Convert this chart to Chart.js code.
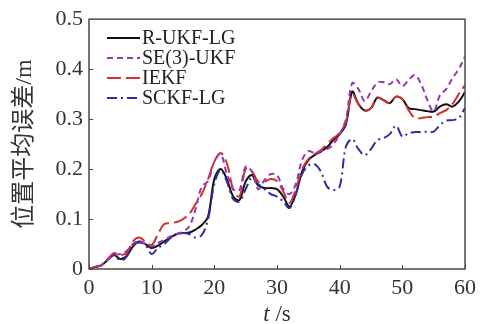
<!DOCTYPE html>
<html>
<head>
<meta charset="utf-8">
<script src="https://cdn.jsdelivr.net/npm/chart.js@4"></script>
<style>
html,body{margin:0;padding:0;background:#fff;}
#wrap{width:486px;height:324px;position:relative;}
</style>
</head>
<body>
<div id="wrap"><canvas id="c" width="486" height="324"></canvas></div>
<script>
const tValues = [0,1,2,3,4,5,6,7,8,9,10,11,12,13,14,15,16,17,18,19,20,21,22,23,24,25,26,27,28,29,30,31,32,33,34,35,36,37,38,39,40,41,42,43,44,45,46,47,48,49,50,51,52,53,54,55,56,57,58,59,60];
const seriesNames = ['R-UKF-LG','SE(3)-UKF','IEKF','SCKF-LG'];
const rukfLg = [0,0.004,0.008,0.018,0.028,0.02,0.026,0.045,0.055,0.05,0.042,0.047,0.055,0.063,0.07,0.072,0.073,0.079,0.088,0.105,0.18,0.2,0.18,0.145,0.138,0.175,0.188,0.167,0.162,0.162,0.16,0.145,0.125,0.15,0.195,0.218,0.228,0.235,0.244,0.258,0.27,0.29,0.355,0.33,0.317,0.322,0.343,0.338,0.332,0.345,0.34,0.322,0.32,0.318,0.316,0.315,0.325,0.33,0.325,0.335,0.354];
const se3Ukf = [0,0.004,0.008,0.018,0.028,0.03,0.036,0.05,0.056,0.05,0.045,0.052,0.058,0.065,0.07,0.075,0.085,0.12,0.165,0.176,0.215,0.23,0.19,0.16,0.158,0.205,0.195,0.16,0.178,0.19,0.188,0.16,0.15,0.17,0.218,0.236,0.232,0.236,0.24,0.25,0.27,0.3,0.372,0.36,0.336,0.355,0.373,0.374,0.37,0.38,0.366,0.378,0.388,0.37,0.338,0.315,0.348,0.36,0.382,0.4,0.425];
const iekf = [0,0.004,0.008,0.02,0.032,0.028,0.032,0.055,0.063,0.055,0.048,0.07,0.09,0.092,0.094,0.1,0.11,0.13,0.15,0.18,0.215,0.232,0.212,0.16,0.145,0.2,0.195,0.175,0.175,0.18,0.176,0.155,0.132,0.16,0.2,0.22,0.23,0.238,0.25,0.262,0.272,0.295,0.35,0.33,0.318,0.322,0.343,0.338,0.332,0.345,0.34,0.318,0.302,0.302,0.304,0.305,0.312,0.318,0.33,0.35,0.368];
const sckfLg = [0,0.004,0.008,0.02,0.028,0.017,0.025,0.048,0.053,0.048,0.03,0.042,0.05,0.062,0.07,0.072,0.07,0.063,0.068,0.1,0.17,0.198,0.175,0.14,0.135,0.16,0.183,0.17,0.16,0.15,0.145,0.135,0.122,0.15,0.19,0.207,0.21,0.195,0.165,0.158,0.165,0.245,0.26,0.24,0.228,0.24,0.258,0.262,0.27,0.287,0.265,0.272,0.274,0.274,0.275,0.275,0.288,0.297,0.298,0.302,0.322];
const yTicks = [0,0.1,0.2,0.3,0.4,0.5];
const xTicks = [0,10,20,30,40,50,60];
const yTitle = '位置平均误差/m';

const serif = "'Liberation Serif','Times New Roman',serif";
const axisColor = '#4a4a4a';
const textColor = '#333';

function pts(vals){ return tValues.map((t,i)=>({x:t,y:vals[i]})); }

const styles = [
  {color:'#111111', dash:[]},
  {color:'#9a35ad', dash:[6,4]},
  {color:'#d33030', dash:[14,5]},
  {color:'#2b2f9e', dash:[10,4,2,4]}
];
const allVals = [rukfLg, se3Ukf, iekf, sckfLg];
// draw order: purple, red, blue, black on top-ish
const order = [1,2,3,0];
const datasets = order.map(i=>({
  label: seriesNames[i],
  data: pts(allVals[i]),
  borderColor: styles[i].color,
  borderDash: styles[i].dash,
  borderWidth: 2,
  pointRadius: 0,
  tension: 0.35,
  fill: false,
  legendIndex: i
}));

const framePlugin = {
  id:'frame',
  afterDraw(chart){
    const {ctx, chartArea:a, scales} = chart;
    ctx.save();
    ctx.strokeStyle = axisColor;
    ctx.lineWidth = 1.5;
    ctx.setLineDash([]);
    ctx.strokeRect(a.left, a.top, a.right-a.left, a.bottom-a.top);
    ctx.lineWidth = 1;
    ctx.beginPath();
    yTicks.forEach(v=>{
      const y = Math.round(scales.y.getPixelForValue(v))+0.5;
      ctx.moveTo(a.left, y); ctx.lineTo(a.left+4, y);
    });
    xTicks.forEach(v=>{
      const x = Math.round(scales.x.getPixelForValue(v))+0.5;
      ctx.moveTo(x, a.bottom); ctx.lineTo(x, a.bottom-4);
    });
    ctx.stroke();
    // x title: italic t + /s
    const cx = (a.left+a.right)/2;
    const by = 321;
    ctx.fillStyle = textColor;
    ctx.textBaseline = 'alphabetic';
    ctx.font = "italic 23px " + serif;
    const w1 = ctx.measureText('t').width;
    ctx.font = "23px " + serif;
    const w2 = ctx.measureText(' /s').width;
    const x0 = cx - (w1+w2)/2;
    ctx.font = "italic 23px " + serif;
    ctx.textAlign = 'left';
    ctx.fillText('t', x0, by);
    ctx.font = "23px " + serif;
    ctx.fillText(' /s', x0+w1, by);
    // y title
    ctx.save();
    ctx.translate(25, (a.top+a.bottom)/2);
    ctx.rotate(-Math.PI/2);
    ctx.textAlign = 'center';
    ctx.textBaseline = 'middle';
    ctx.font = "24px 'Liberation Serif','Noto Sans CJK SC',serif";
    ctx.fillText(yTitle, 0, 0);
    ctx.restore();
    // legend
    const rows = [38,58,78,98];
    for (let i=0;i<4;i++){
      const y = rows[i];
      ctx.strokeStyle = styles[i].color;
      ctx.lineWidth = 2;
      ctx.setLineDash(styles[i].dash);
      ctx.beginPath();
      ctx.moveTo(107, y); ctx.lineTo(140, y);
      ctx.stroke();
      ctx.setLineDash([]);
      ctx.fillStyle = '#222';
      ctx.font = "20px " + serif;
      ctx.textAlign = 'left';
      ctx.textBaseline = 'middle';
      ctx.fillText(seriesNames[i], 142, y+1);
    }
    ctx.restore();
  }
};

new Chart(document.getElementById('c'), {
  type:'line',
  data:{datasets},
  options:{
    responsive:false,
    animation:false,
    devicePixelRatio:1,
    layout:{padding:{top:19,right:21,left:0,bottom:0}},
    plugins:{legend:{display:false}, tooltip:{enabled:false}},
    scales:{
      x:{
        type:'linear', min:0, max:60,
        afterBuildTicks(s){ s.ticks = xTicks.map(v=>({value:v})); },
        afterFit(s){ s.height = 55; },
        grid:{display:false, drawTicks:false},
        border:{display:false},
        ticks:{padding:6, color:textColor, font:{family:serif, size:22}, maxRotation:0}
      },
      y:{
        type:'linear', min:0, max:0.5,
        afterBuildTicks(s){ s.ticks = yTicks.map(v=>({value:v})); },
        afterFit(s){ s.width = 89; },
        grid:{display:false, drawTicks:false},
        border:{display:false},
        ticks:{padding:6, color:textColor, font:{family:serif, size:22}}
      }
    }
  },
  plugins:[framePlugin]
});
</script>
</body>
</html>
